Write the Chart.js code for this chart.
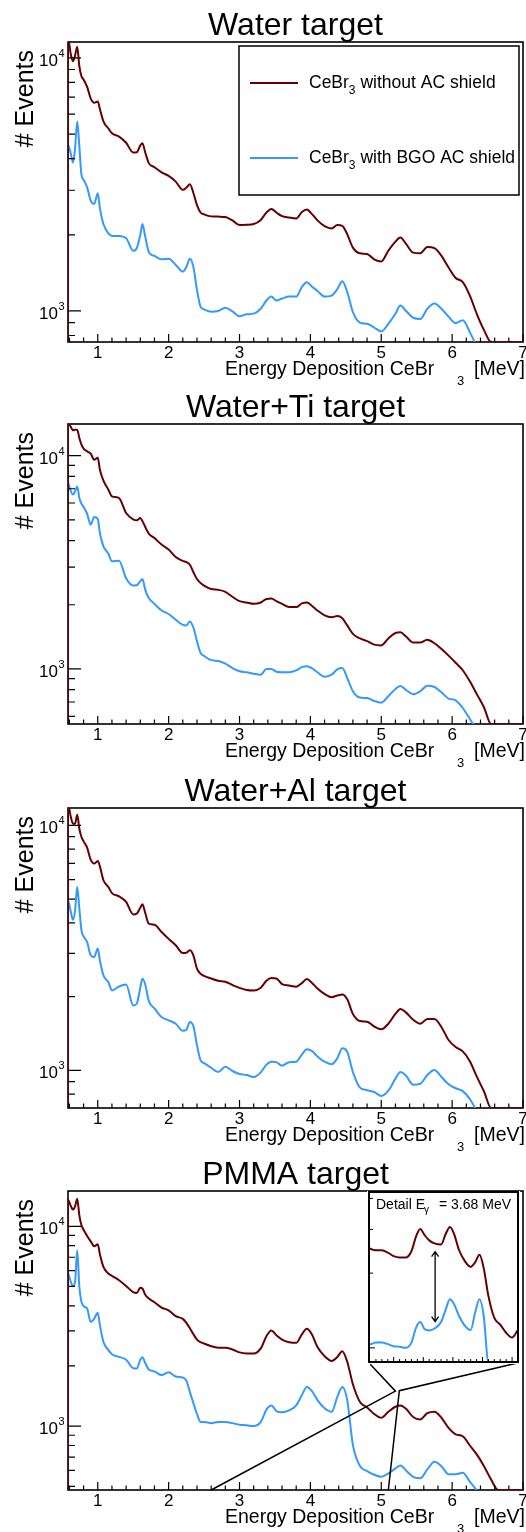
<!DOCTYPE html>
<html>
<head>
<meta charset="utf-8">
<title>CeBr3 spectra</title>
<script src="https://cdn.jsdelivr.net/npm/chart.js@4.4.1/dist/chart.umd.min.js"></script>
<style>
  html, body { margin: 0; padding: 0; background: #fff; }
  #page { position: relative; width: 526px; height: 1532px; overflow: hidden; background: #fff; }
  #page canvas { position: absolute; left: 0; }
</style>
</head>
<body>
<div id="page">
  <canvas id="water" width="526" height="395" style="top:0px"></canvas>
  <canvas id="waterTi" width="526" height="395" style="top:382px"></canvas>
  <canvas id="waterAl" width="526" height="395" style="top:766px"></canvas>
  <canvas id="pmma" width="526" height="383" style="top:1149px"></canvas>
  <canvas id="detail" width="153" height="173" style="left:367px; top:1191px"></canvas>
</div>
<script>
// energy deposited in the CeBr3 crystal [MeV], shared by all spectra
const energy = [
  0.58, 0.62, 0.65, 0.68, 0.71, 0.74, 0.77, 0.80, 0.85, 0.90,
  0.95, 1.00, 1.03, 1.08, 1.15, 1.20, 1.30, 1.40, 1.50, 1.55,
  1.60, 1.63, 1.67, 1.72, 1.80, 1.90, 2.00, 2.10, 2.20, 2.25,
  2.30, 2.35, 2.40, 2.45, 2.50, 2.60, 2.70, 2.80, 2.90, 3.00,
  3.10, 3.20, 3.30, 3.38, 3.45, 3.52, 3.60, 3.70, 3.80, 3.88,
  3.95, 4.02, 4.10, 4.20, 4.30, 4.38, 4.45, 4.52, 4.60, 4.70,
  4.80, 4.90, 5.00, 5.10, 5.20, 5.27, 5.35, 5.45, 5.55, 5.65,
  5.75, 5.85, 5.95, 6.05, 6.15, 6.25, 6.35, 6.45, 6.55, 6.65,
  6.80, 7.00
];

// # events, water target
const waterNoShield = [
  12000, 10310, 9700, 10220, 11060, 9270, 8460, 8210, 7680, 6920,
  6650, 6730, 6280, 5610, 5260, 5040, 4890, 4620, 4230, 4240,
  4510, 4600, 4230, 3840, 3700, 3530, 3420, 3245, 3010, 3070,
  3170, 2920, 2620, 2450, 2410, 2365, 2360, 2350, 2280, 2185,
  2190, 2205, 2290, 2450, 2530, 2450, 2370, 2340, 2320, 2460,
  2520, 2420, 2280, 2165, 2120, 2185, 2170, 2010, 1780, 1690,
  1680, 1600, 1570, 1730, 1880, 1950, 1840, 1700, 1690, 1790,
  1770, 1650, 1485, 1350, 1300, 1150, 970, 840, 730, 630,
  510, 390
];
const waterBGO = [
  4540, 4180, 3860, 4400, 5610, 4470, 3450, 3300, 3080, 2730,
  2650, 2920, 2550, 2205, 2025, 1980, 1980, 1940, 1730, 1770,
  1995, 2205, 1965, 1710, 1650, 1600, 1610, 1520, 1430, 1490,
  1610, 1490, 1210, 1040, 1015, 994, 1000, 1030, 997, 953,
  970, 976, 1020, 1100, 1140, 1100, 1120, 1140, 1140, 1245,
  1300, 1250, 1200, 1140, 1150, 1220, 1310, 1190, 990, 900,
  890, 860, 830, 890, 975, 1050, 1000, 940, 930, 1020,
  1070, 1020, 950, 895, 920, 825, 720, 620, 540, 470,
  390, 310
];

// # events, water + Ti target
const titaniumNoShield = [
  14500, 13630, 13150, 13240, 13240, 12100, 11260, 10790, 10480, 10220,
  9580, 9790, 8600, 7640, 6930, 6450, 6330, 5385, 5030, 4975,
  5100, 4940, 4630, 4310, 4110, 3830, 3630, 3350, 3210, 3170,
  3080, 2840, 2640, 2530, 2460, 2370, 2350, 2300, 2180, 2080,
  2050, 2020, 2050, 2130, 2140, 2080, 2020, 1950, 1950, 2030,
  2050, 1980, 1880, 1785, 1750, 1770, 1730, 1600, 1460, 1390,
  1350, 1300, 1290, 1390, 1475, 1485, 1420, 1330, 1330, 1370,
  1320, 1240, 1155, 1070, 986, 875, 760, 660, 545, 470,
  390, 320
];
const titaniumBGO = [
  7450, 6810, 6570, 6810, 7180, 6330, 5960, 5750, 5330, 4750,
  5160, 5050, 4340, 3760, 3470, 3200, 3220, 2660, 2460, 2470,
  2580, 2640, 2350, 2150, 2020, 1880, 1810, 1700, 1610, 1600,
  1670, 1560, 1350, 1190, 1150, 1100, 1090, 1060, 1010, 975,
  965, 950, 940, 1000, 1000, 970, 965, 965, 985, 1020,
  1030, 1010, 965, 920, 940, 996, 1010, 907, 786, 734,
  731, 708, 695, 745, 806, 833, 797, 761, 786, 835,
  823, 777, 726, 713, 656, 583, 520, 460, 400, 350,
  290, 230
];

// # events, water + Al target
const aluminiumNoShield = [
  12200, 10810, 10160, 10160, 11050, 9690, 8960, 8600, 8110, 7240,
  6980, 7150, 6800, 5970, 5600, 5290, 5130, 4870, 4330, 4360,
  4610, 4760, 4390, 3970, 3930, 3670, 3440, 3240, 3010, 3020,
  3090, 2940, 2600, 2480, 2430, 2370, 2320, 2300, 2230, 2170,
  2130, 2120, 2175, 2320, 2380, 2370, 2250, 2220, 2195, 2270,
  2360, 2280, 2160, 2050, 1990, 2020, 2040, 1950, 1700, 1590,
  1580, 1510, 1470, 1550, 1700, 1780, 1720, 1610, 1550, 1620,
  1620, 1500, 1330, 1245, 1195, 1090, 940, 820, 700, 600,
  490, 390
];
const aluminiumBGO = [
  4940, 4430, 4120, 4500, 5600, 4570, 3730, 3520, 3340, 2950,
  2900, 3140, 2810, 2440, 2290, 2120, 2200, 2240, 1840, 1870,
  2175, 2370, 2240, 1920, 1790, 1650, 1600, 1550, 1450, 1465,
  1575, 1510, 1265, 1100, 1070, 1025, 984, 1035, 994, 966,
  957, 939, 981, 1055, 1085, 1080, 1045, 1080, 1085, 1160,
  1220, 1200, 1140, 1085, 1060, 1120, 1230, 1190, 984, 850,
  830, 816, 786, 826, 925, 984, 950, 874, 882, 957,
  1003, 939, 877, 845, 823, 764, 680, 600, 530, 460,
  380, 300
];

// # events, PMMA target
const pmmaNoShield = [
  13590, 12640, 12120, 12590, 13750, 11350, 10120, 9620, 8950, 8410,
  7940, 8130, 7240, 6260, 5800, 5650, 5370, 5030, 4680, 4640,
  4920, 4880, 4540, 4350, 4170, 3920, 3800, 3550, 3440, 3290,
  3090, 2880, 2710, 2630, 2590, 2510, 2470, 2470, 2420, 2340,
  2310, 2310, 2450, 2820, 3010, 2850, 2710, 2630, 2610, 2880,
  3070, 2880, 2490, 2240, 2120, 2220, 2370, 2100, 1620, 1320,
  1240, 1150, 1100, 1180, 1250, 1270, 1220, 1110, 1080, 1160,
  1180, 1100, 980, 910, 890, 800, 720, 630, 540, 470,
  400, 330
];
const pmmaBGO = [
  5800, 5270, 5010, 5270, 7590, 4970, 4190, 3980, 3880, 3320,
  3450, 3690, 3200, 2640, 2400, 2290, 2220, 2150, 1950, 1940,
  2150, 2210, 2070, 1920, 1880, 1800, 1860, 1770, 1750, 1690,
  1480, 1300, 1150, 1050, 1050, 1035, 1050, 1050, 1035, 1015,
  1010, 1000, 1050, 1210, 1270, 1190, 1175, 1200, 1270, 1430,
  1570, 1500, 1350, 1230, 1180, 1400, 1570, 1350, 804, 631,
  596, 571, 558, 580, 614, 636, 600, 558, 548, 607,
  663, 630, 575, 575, 584, 527, 475, 420, 370, 320,
  260, 200
];

const seriesNames = ['without AC shield', 'with BGO AC shield'];
const xRange = [0.58, 7];
const yRangeWater = [754, 11560];
const yRangeTi = [552, 14080];
const yRangeAl = [702, 11770];
const yRangePmma = [479, 15020];

// inset "Detail" of the PMMA spectrum
const detailX = [2.6, 5.1];
const detailY = [877, 4244];
const detailLine = 3.7;
const detailArrow = [2440, 1275];
const linkKinks = [[5.20, 1496], [5.255, 1505]];
const linkCorners = [[4.845, 2042], [6.936, 2077]];

const RED = '#660000';
const BLUE = '#3399ff';
const FONT = '"Liberation Sans", Arial, Helvetica, sans-serif';
const px = size => size + 'px ' + FONT;

Chart.defaults.font.family = FONT;

function spectrum(values, yMin, clampLow) {
  // histogram outline starts from the bottom of the frame at the lower edge
  const pts = [{ x: energy[0], y: yMin }];
  energy.forEach((e, i) => {
    pts.push({ x: e, y: clampLow ? Math.max(values[i], yMin) : values[i] });
  });
  return pts;
}

function drawParts(ctx, x, y, parts) {
  let cx = x;
  for (const [text, size, dy] of parts) {
    ctx.font = px(size);
    ctx.fillText(text, cx, y + (dy || 0));
    cx += ctx.measureText(text).width;
  }
}

const rootAxes = {
  id: 'rootAxes',
  beforeDatasetsDraw(chart) {
    const { ctx, chartArea: a } = chart;
    ctx.save();
    ctx.strokeStyle = '#000';
    ctx.lineWidth = 1.6;
    ctx.strokeRect(a.left, a.top, a.right - a.left, a.bottom - a.top);
    ctx.restore();
  },
  afterDatasetsDraw(chart, args, opts) {
    const { ctx, chartArea: a, scales: { x, y } } = chart;
    ctx.save();
    ctx.strokeStyle = '#000';
    ctx.fillStyle = '#000';
    ctx.lineWidth = 1.2;

    // x axis ticks, every 0.2 MeV
    ctx.beginPath();
    for (let k = Math.ceil(x.min * 5 - 1e-6); k <= Math.floor(x.max * 5 + 1e-6); k++) {
      const p = x.getPixelForValue(k / 5);
      const len = k % 5 === 0 ? 8 : 4.5;
      ctx.moveTo(p, a.bottom);
      ctx.lineTo(p, a.bottom - len);
    }
    // y axis ticks, log decades
    const labels = [];
    for (let d = Math.floor(Math.log10(y.min)); d <= Math.ceil(Math.log10(y.max)); d++) {
      for (let m = 1; m <= 9; m++) {
        const v = m * Math.pow(10, d);
        if (v < y.min || v > y.max) continue;
        const p = y.getPixelForValue(v);
        ctx.moveTo(a.left, p);
        ctx.lineTo(a.left + (m === 1 ? 13 : 7), p);
        if (m === 1) labels.push([d, p]);
      }
    }
    ctx.stroke();

    // tick labels
    ctx.font = px(17);
    ctx.textAlign = 'center';
    for (let v = Math.ceil(x.min); v <= x.max; v++) {
      ctx.fillText(String(v), x.getPixelForValue(v), a.bottom + 15.5);
    }
    for (const [d, p] of labels) {
      ctx.font = px(11);
      const supW = ctx.measureText(String(d)).width;
      const right = a.left - 3.5;
      ctx.textAlign = 'left';
      ctx.fillText(String(d), right - supW, p - 1);
      ctx.font = px(17);
      ctx.textAlign = 'right';
      ctx.fillText('10', right - supW - 0.5, p + 8);
    }

    // pad title
    ctx.font = px(32);
    ctx.textAlign = 'center';
    ctx.fillText(opts.title, (a.left + a.right) / 2, a.top - 7.5);

    // x axis title
    ctx.textAlign = 'left';
    ctx.font = px(19.5);
    ctx.fillText('Energy Deposition CeBr', a.right - 298, a.bottom + 32.5);
    ctx.font = px(13);
    ctx.fillText('3', a.right - 66, a.bottom + 43);
    ctx.font = px(19.5);
    ctx.textAlign = 'right';
    ctx.fillText('[MeV]', a.right + 2, a.bottom + 32.5);

    // y axis title
    ctx.save();
    ctx.translate(33, a.top + 8);
    ctx.rotate(-Math.PI / 2);
    ctx.font = px(25);
    ctx.textAlign = 'right';
    ctx.fillText('# Events', 0, 0);
    ctx.restore();

    if (opts.legend) {
      const bx = a.right - 284, by = a.top + 4;
      ctx.fillStyle = '#fff';
      ctx.fillRect(bx, by, 280, 149);
      ctx.strokeStyle = '#000';
      ctx.lineWidth = 1.5;
      ctx.strokeRect(bx, by, 280, 149);
      const rows = [[RED, seriesNames[0], 37], [BLUE, seriesNames[1], 112]];
      for (const [col, name, dy] of rows) {
        ctx.strokeStyle = col;
        ctx.lineWidth = 2;
        ctx.beginPath();
        ctx.moveTo(bx + 11, by + dy);
        ctx.lineTo(bx + 59, by + dy);
        ctx.stroke();
        ctx.fillStyle = '#000';
        ctx.textAlign = 'left';
        drawParts(ctx, bx + 70, by + dy + 5.3, [['CeBr', 17.5], ['3', 12, 6], [' ' + name, 17.5]]);
      }
    }

    if (opts.links) {
      ctx.strokeStyle = '#000';
      ctx.lineWidth = 1.5;
      for (let i = 0; i < 2; i++) {
        ctx.beginPath();
        ctx.moveTo(x.getPixelForValue(detailX[i]), y.getPixelForValue(y.min));
        ctx.lineTo(x.getPixelForValue(linkKinks[i][0]), y.getPixelForValue(linkKinks[i][1]));
        ctx.lineTo(x.getPixelForValue(linkCorners[i][0]), y.getPixelForValue(linkCorners[i][1]));
        ctx.stroke();
      }
    }
    ctx.restore();
  }
};

function spectrumChart(id, title, noShield, bgo, yRange, padBottom, extra) {
  const [yMin, yMax] = yRange;
  return new Chart(document.getElementById(id), {
    type: 'line',
    data: {
      datasets: [
        { label: 'CeBr3 ' + seriesNames[0], data: spectrum(noShield, yMin, true), borderColor: RED },
        { label: 'CeBr3 ' + seriesNames[1], data: spectrum(bgo, yMin, false), borderColor: BLUE }
      ]
    },
    options: {
      responsive: false,
      animation: false,
      devicePixelRatio: 1,
      events: [],
      layout: { padding: { left: 68, right: 3, top: 42, bottom: padBottom } },
      elements: {
        line: { borderWidth: 2, cubicInterpolationMode: 'monotone', fill: false },
        point: { radius: 0 }
      },
      scales: {
        x: { type: 'linear', display: false, min: xRange[0], max: xRange[1] },
        y: { type: 'logarithmic', display: false, min: yMin, max: yMax }
      },
      plugins: {
        legend: { display: false },
        tooltip: { enabled: false },
        rootAxes: Object.assign({ title: title }, extra || {})
      }
    },
    plugins: [rootAxes]
  });
}

spectrumChart('water', 'Water target', waterNoShield, waterBGO, yRangeWater, 53, { legend: true });
spectrumChart('waterTi', 'Water+Ti target', titaniumNoShield, titaniumBGO, yRangeTi, 53);
spectrumChart('waterAl', 'Water+Al target', aluminiumNoShield, aluminiumBGO, yRangeAl, 53);
spectrumChart('pmma', 'PMMA target', pmmaNoShield, pmmaBGO, yRangePmma, 42, { links: true });

// inset: detail of the 3.68 MeV region of the PMMA spectrum
const detailPad = {
  id: 'detailPad',
  beforeDraw(chart) {
    const { ctx, width, height } = chart;
    ctx.save();
    ctx.fillStyle = '#fff';
    ctx.fillRect(0, 0, width, height);
    ctx.restore();
  },
  afterDatasetsDraw(chart) {
    const { ctx, chartArea: a, scales: { x, y } } = chart;
    ctx.save();
    ctx.strokeStyle = '#000';
    ctx.fillStyle = '#000';
    ctx.lineWidth = 1;
    ctx.beginPath();
    for (let k = Math.ceil(x.min * 10 + 1e-6); k < x.max * 10 - 1e-6; k++) {
      const p = x.getPixelForValue(k / 10);
      ctx.moveTo(p, a.bottom);
      ctx.lineTo(p, a.bottom - (k % 5 === 0 ? 5 : 3));
    }
    for (const v of [1000, 2000, 3000, 4000]) {
      const p = y.getPixelForValue(v);
      ctx.moveTo(a.left, p);
      ctx.lineTo(a.left + (v === 1000 ? 5 : 3), p);
    }
    ctx.stroke();

    // arrow between the two spectra at the 3.68 MeV line
    const ax = x.getPixelForValue(detailLine);
    const y1 = y.getPixelForValue(detailArrow[0]);
    const y2 = y.getPixelForValue(detailArrow[1]);
    ctx.lineWidth = 1.3;
    ctx.beginPath();
    ctx.moveTo(ax, y1);
    ctx.lineTo(ax, y2);
    ctx.moveTo(ax - 3.5, y1 + 5);
    ctx.lineTo(ax, y1);
    ctx.lineTo(ax + 3.5, y1 + 5);
    ctx.moveTo(ax - 3.5, y2 - 5);
    ctx.lineTo(ax, y2);
    ctx.lineTo(ax + 3.5, y2 - 5);
    ctx.stroke();

    // frame
    ctx.lineWidth = 2;
    ctx.strokeRect(a.left - 1, a.top, a.right - a.left + 1, a.bottom - a.top);

    // title
    ctx.textAlign = 'left';
    drawParts(ctx, a.left + 6, a.top + 16.5, [['Detail E', 14]]);
    ctx.font = px(10);
    ctx.fillText('\u03b3', a.left + 54, a.top + 21);
    ctx.font = px(14);
    ctx.textAlign = 'right';
    ctx.fillText('= 3.68 MeV', a.right - 7, a.top + 16.5);
    ctx.restore();
  }
};

new Chart(document.getElementById('detail'), {
  type: 'line',
  data: {
    datasets: [
      { label: 'CeBr3 ' + seriesNames[0], data: spectrum(pmmaNoShield, detailY[0], true), borderColor: RED },
      { label: 'CeBr3 ' + seriesNames[1], data: spectrum(pmmaBGO, detailY[0], true), borderColor: BLUE }
    ]
  },
  options: {
    responsive: false,
    animation: false,
    devicePixelRatio: 1,
    events: [],
    layout: { padding: { left: 3, right: 2, top: 1, bottom: 2 } },
    elements: {
      line: { borderWidth: 2, cubicInterpolationMode: 'monotone', fill: false },
      point: { radius: 0 }
    },
    scales: {
      x: { type: 'linear', display: false, min: detailX[0], max: detailX[1] },
      y: { type: 'logarithmic', display: false, min: detailY[0], max: detailY[1] }
    },
    plugins: { legend: { display: false }, tooltip: { enabled: false } }
  },
  plugins: [detailPad]
});
</script>
</body>
</html>
